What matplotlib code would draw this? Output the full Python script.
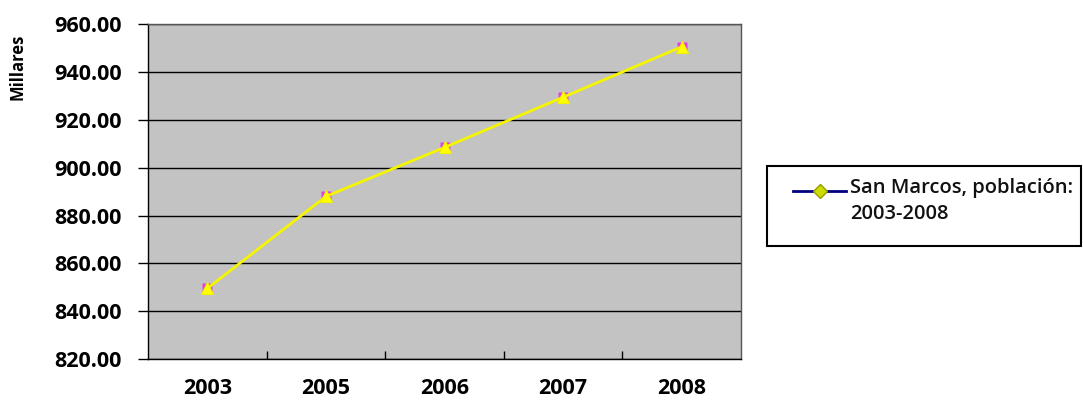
import matplotlib
matplotlib.use("Agg")
import matplotlib.pyplot as plt
from matplotlib.lines import Line2D
from matplotlib.patches import Rectangle

# ---- data ----
years = ["2003", "2005", "2006", "2007", "2008"]
poblacion = [849.5, 888.0, 908.5, 929.5, 950.6]
yticks = [820, 840, 860, 880, 900, 920, 940, 960]
ylabel = "Millares"
legend_label = "San Marcos, población:\n2003-2008"

plt.rcParams['font.family'] = ['Open Sans', 'DejaVu Sans']

fig = plt.figure(figsize=(10.83, 4.01), dpi=100)
W, H = 1083, 401
left, right, top, bottom = 148, 741, 24.3, 359
ax = fig.add_axes([left / W, 1 - bottom / H, (right - left) / W, (bottom - top) / H])
ax.set_facecolor('#c3c3c3')

x = list(range(len(years)))
# magenta square behind (Excel-like marker artefact), then yellow triangle
ax.plot(x, poblacion, color='none', marker='s', markersize=7,
        markerfacecolor='#e040e0', markeredgecolor='none', zorder=3)
ax.plot(x, poblacion, color='#f5f500', lw=2, marker='^', markersize=9,
        markerfacecolor='#ffff00', markeredgecolor='#f0f000', markeredgewidth=0.8, zorder=4)

ax.set_xlim(-0.5, len(years) - 0.5)
ax.set_ylim(yticks[0], yticks[-1])
ax.set_yticks(yticks)
ax.set_yticklabels([f"{v:.2f}" for v in yticks], fontsize=15.5, fontweight='bold')
ax.set_xticks(x)
ax.set_xticklabels(years, fontsize=15.5, fontweight='bold')
ax.set_xticks([i + 0.5 for i in x[:-1]], minor=True)
ax.tick_params(axis='x', which='major', length=0, pad=14)
ax.tick_params(axis='x', which='minor', direction='in', length=6, width=1, color='black')
ax.tick_params(axis='y', direction='out', length=7, width=1, color='black', pad=12)
ax.grid(axis='y', color='black', lw=1)
ax.set_axisbelow(True)
for s in ax.spines.values():
    s.set_color('black')
    s.set_linewidth(1)
ax.spines['right'].set_color('#555555')
ax.spines['top'].set_color('#555555')

fig.text(18 / W, 1 - 67 / H, ylabel, rotation=90, ha='center', va='center',
         fontsize=12, fontweight='bold')

# ---- legend (manual, Excel-style) ----
bx0, by0, bx1, by1 = 767, 166, 1081, 246
fig.patches.append(Rectangle((bx0 / W, 1 - by1 / H), (bx1 - bx0) / W, (by1 - by0) / H,
                             transform=fig.transFigure, facecolor='white',
                             edgecolor='black', lw=1.5))
ly = 1 - 191.5 / H
fig.add_artist(Line2D([793 / W, 846 / W], [ly, ly], transform=fig.transFigure,
                      color='#000080', lw=2))
fig.add_artist(Line2D([819.5 / W], [ly], transform=fig.transFigure, marker='D',
                      markersize=7, markerfacecolor='#ccdd00', markeredgecolor='#999900',
                      linestyle='none'))
fig.text(850 / W, 1 - 178 / H, legend_label, ha='left', va='top', fontsize=14.5,
         fontweight='semibold', color='#111111', linespacing=1.4)

fig.savefig("out.png", dpi=100)
